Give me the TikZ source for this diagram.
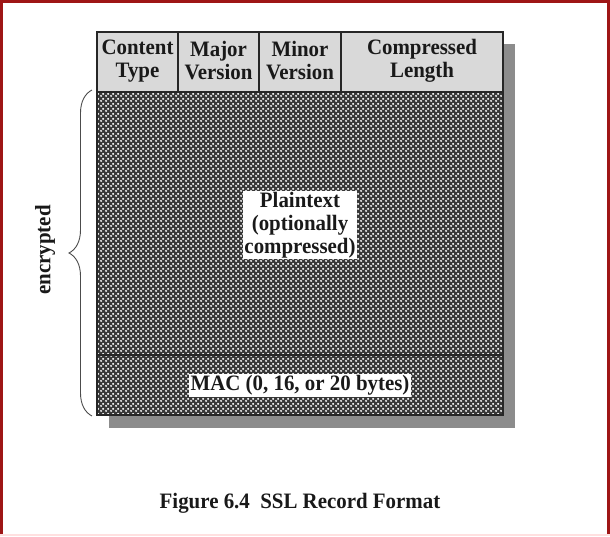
\documentclass[tikz,border=0pt]{standalone}
\usepackage{fontspec}
\setmainfont{Liberation Serif}[FakeStretch=0.95]
\usetikzlibrary{patterns,decorations.pathreplacing}
\pgfdeclarepatternformonly{bigdots}{\pgfqpoint{0pt}{0pt}}{\pgfqpoint{5pt}{5pt}}{\pgfqpoint{5pt}{5pt}}{%
  \pgfpathcircle{\pgfqpoint{1.25pt}{1.25pt}}{1.3pt}%
  \pgfpathcircle{\pgfqpoint{3.75pt}{3.75pt}}{1.3pt}%
  \pgfusepath{fill}}
\definecolor{framered}{RGB}{158,22,22}
\definecolor{hdrgray}{RGB}{217,217,217}
\definecolor{shadowgray}{RGB}{140,140,140}
\definecolor{dotbg}{RGB}{55,55,55}
\tikzset{
  lbl/.style={font=\bfseries\fontsize{22}{23}\selectfont, align=center, inner sep=1.5pt, text=black!90},
  wlbl/.style={lbl, fill=white},
}
\begin{document}
\begin{tikzpicture}[x=1pt,y=-1pt]
\useasboundingbox (0,0) rectangle (610,536);
\fill[white] (0,0) rectangle (610,536);
% frame
\draw[framered, line width=3pt] (1.5,536) -- (1.5,1.5) -- (608.5,1.5) -- (608.5,536);
\draw[red!12, line width=2pt] (0,535) -- (610,535);
% shadow
\fill[shadowgray] (109,44) rectangle (515,428);
% header
\fill[hdrgray] (97,32) rectangle (503,92);
% body with pattern
\fill[dotbg] (97,92) rectangle (503,415);
\fill[pattern=bigdots, pattern color=white] (97,92) rectangle (503,415);
% named coordinates
\coordinate (tl) at (97,32);
\coordinate (br) at (503,415);
\coordinate (hl) at (97,92);
\coordinate (hr) at (503,92);
\coordinate (ml) at (97,355);
\coordinate (mr) at (503,355);
\coordinate (d1t) at (178,32); \coordinate (d1b) at (178,92);
\coordinate (d2t) at (259,32); \coordinate (d2b) at (259,92);
\coordinate (d3t) at (341,32); \coordinate (d3b) at (341,92);
\draw[black!85, line width=1.5pt] (tl) rectangle (br);
\draw[black!85, line width=1.5pt] (hl) -- (hr);
\draw[black!85, line width=1.5pt] (ml) -- (mr);
\draw[black!85, line width=1.5pt] (d1t) -- (d1b);
\draw[black!85, line width=1.5pt] (d2t) -- (d2b);
\draw[black!85, line width=1.5pt] (d3t) -- (d3b);
% header labels
\node[lbl] (ct) at (137.5,61) {Content\\Type};
\node[lbl] (mj) at (218.5,61) {Major\\Version};
\node[lbl] (mn) at (300,61) {Minor\\Version};
\node[lbl] (cl) at (422,61) {Compressed\\Length};
% body labels
\node[wlbl] (pt) at (300,225) {Plaintext\\(optionally\\compressed)};
\node[wlbl] (mac) at (300,385) {MAC (0, 16, or 20 bytes)};
% brace
\coordinate (bb) at (92,416);
\coordinate (bt) at (92,90);
\draw[black!70, line width=0.9pt, decorate, decoration={brace, amplitude=23pt}] (bb) -- (bt);
\node[lbl, rotate=90] (enc) at (45,250) {encrypted};
% caption
\node[lbl] (cap) at (300,503) {Figure 6.4\ \ SSL Record Format};
\end{tikzpicture}
\end{document}
